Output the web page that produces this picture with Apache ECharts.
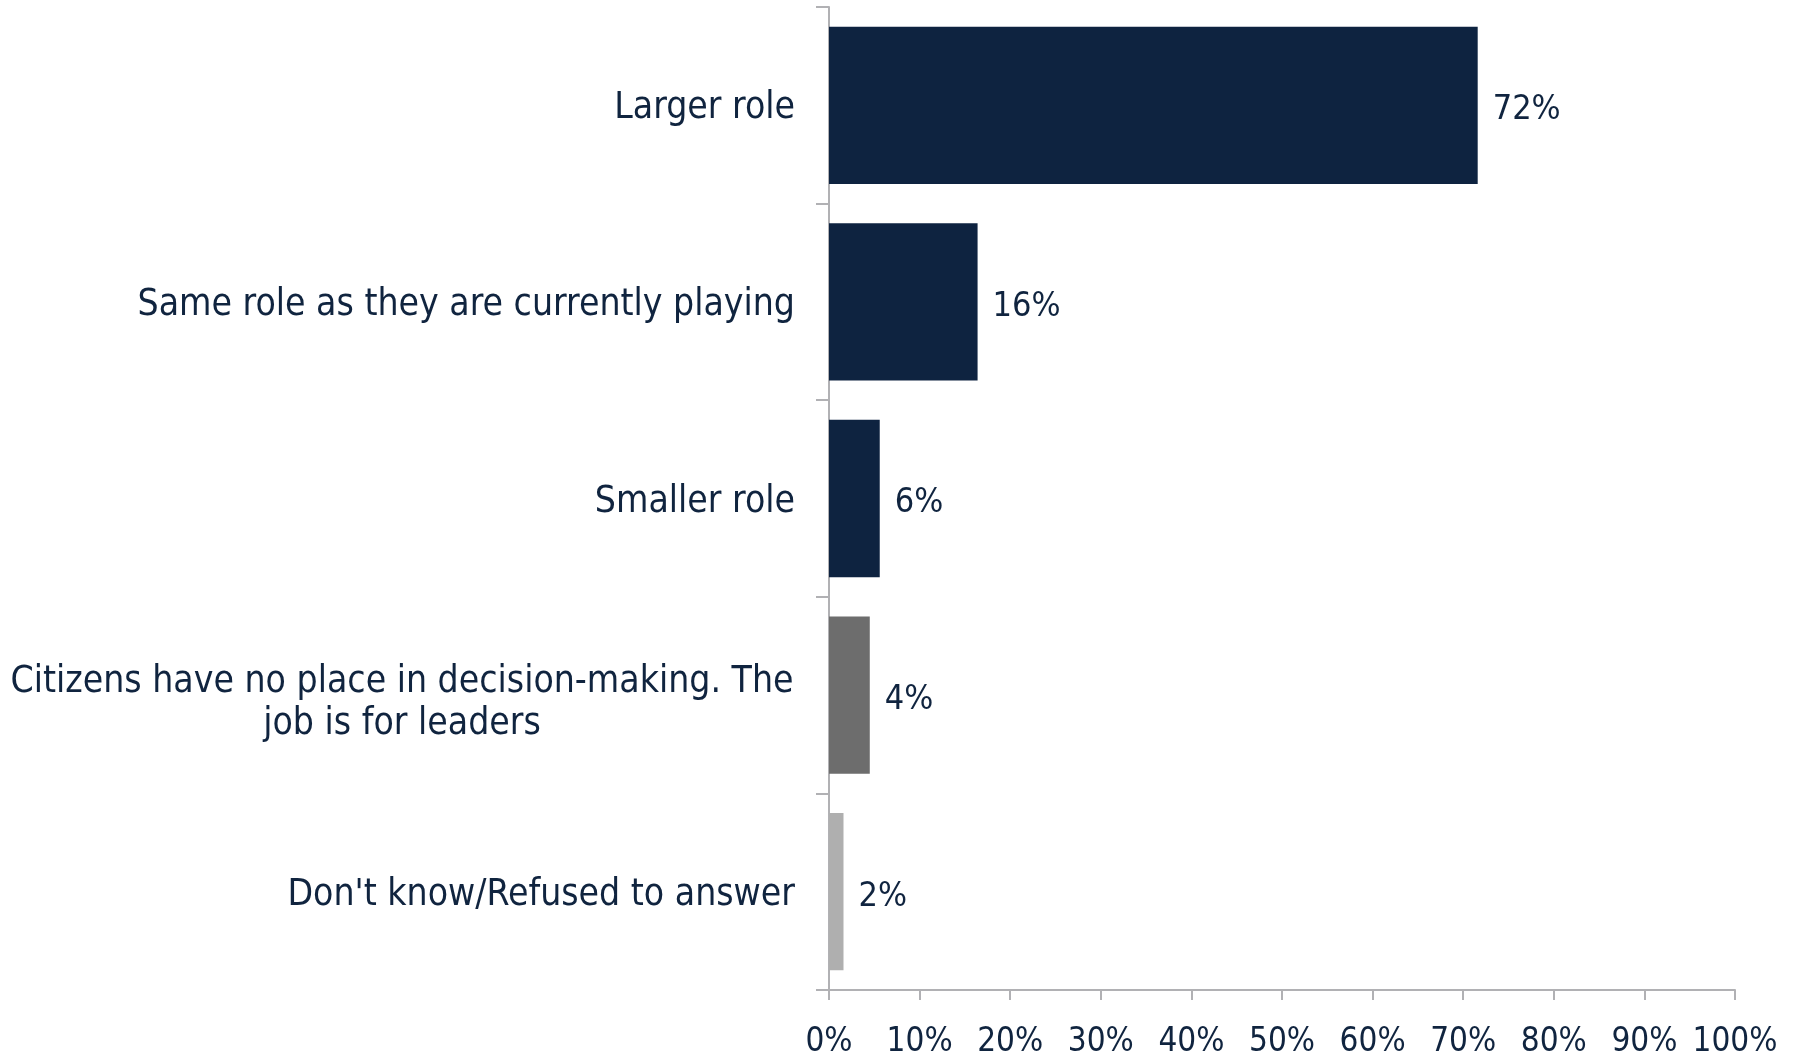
<!DOCTYPE html>
<html>
<head>
<meta charset="utf-8">
<script src="https://cdn.jsdelivr.net/npm/echarts@6/dist/echarts.min.js"></script>
<style>
  html, body { margin: 0; padding: 0; background: #fff; }
  #container { width: 1796px; height: 1059px; }
</style>
</head>
<body>
<div id="container"></div>
<script>
// categories, top to bottom
let categories = [
    "Larger role",
    "Same role as they are currently playing",
    "Smaller role",
    "Citizens have no place in decision-making. The\njob is for leaders",
    "Don't know/Refused to answer"
];
let values = [71.6, 16.4, 5.6, 4.5, 1.6];
let valueLabels = ["72%", "16%", "6%", "4%", "2%"];
let barColors = ["#0e2340", "#0e2340", "#0e2340", "#6d6d6d", "#afafaf"];
let tickValues = [0, 10, 20, 30, 40, 50, 60, 70, 80, 90, 100];

let textColor = "#10243f";
let axisColor = "#b1b1b4";
let narrow = "'Liberation Sans Narrow', 'DejaVu Sans Condensed', 'Liberation Sans', sans-serif";
let condensed = "'DejaVu Sans Condensed', 'DejaVu Sans', sans-serif";

let dom = document.getElementById("container");
let myChart = echarts.init(dom);

let seriesData = values.map((v, i) => ({
    value: v,
    itemStyle: { color: barColors[i] },
    label: { formatter: valueLabels[i] }
}));

// two-line labels sit a little lower than the single ones
let categoryData = categories.map(name => name.indexOf("\n") < 0 ? name :
    { value: name, textStyle: { padding: [16, 0, 0, 0] } });

let option = {
    animation: false,
    grid: { left: 829, right: 61, top: 7, bottom: 67, containLabel: false },
    xAxis: {
        type: "value",
        min: 0,
        max: 100,
        interval: 10,
        splitLine: { show: false },
        axisLine: { show: true, lineStyle: { color: axisColor, width: 2 } },
        axisTick: { show: true, length: 10, lineStyle: { color: axisColor, width: 2 } },
        axisLabel: {
            margin: 36,
            color: textColor,
            fontFamily: narrow,
            fontSize: 33,
            formatter: v => tickValues.includes(v) ? v + "%" : ""
        }
    },
    yAxis: {
        type: "category",
        inverse: true,
        data: categoryData,
        axisLine: { show: true, lineStyle: { color: axisColor, width: 2 } },
        axisTick: { show: true, length: 13, lineStyle: { color: axisColor, width: 2 } },
        axisLabel: {
            margin: 34,
            color: textColor,
            fontFamily: condensed,
            fontSize: 37,
            lineHeight: 42,
            padding: [7, 0, 0, 0],
            formatter: name => name.indexOf("\n") < 0 ? name :
                name.split("\n").map(s => "{c|" + s + "}").join("\n"),
            rich: {
                c: {
                    width: 786,
                    align: "center",
                    color: textColor,
                    fontFamily: condensed,
                    fontSize: 37,
                    lineHeight: 42
                }
            }
        }
    },
    series: [{
        type: "bar",
        data: seriesData,
        barCategoryGap: "20%",
        label: {
            show: true,
            position: "right",
            distance: 15,
            offset: [0, 5],
            color: textColor,
            fontFamily: narrow,
            fontSize: 34
        }
    }]
};
myChart.setOption(option);
</script>
</body>
</html>
